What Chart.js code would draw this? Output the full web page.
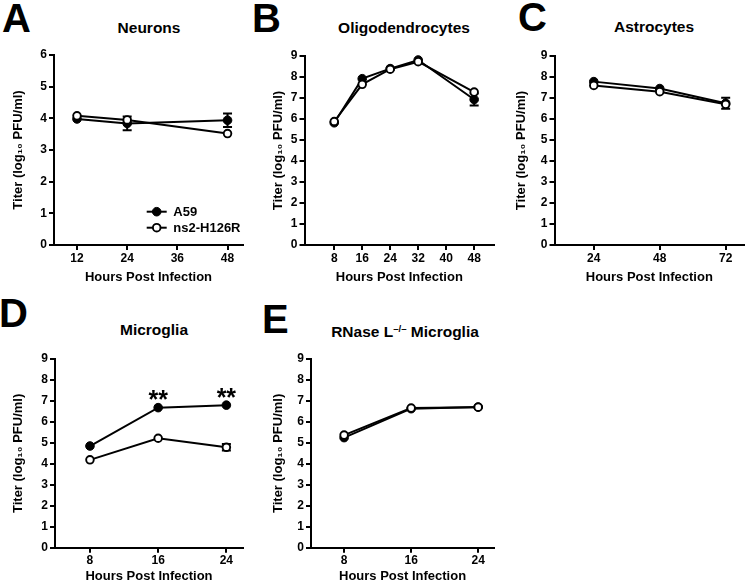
<!DOCTYPE html>
<html><head><meta charset="utf-8">
<script src="https://cdn.jsdelivr.net/npm/chart.js@4.4.1/dist/chart.umd.min.js"></script>
<style>
html,body{margin:0;padding:0;background:#fff;}
body{width:750px;height:587px;position:relative;overflow:hidden;font-family:'Liberation Sans',Arial,sans-serif;color:#000;}
canvas{position:absolute;}
.lbl{position:absolute;font-weight:bold;font-size:40px;line-height:40px;white-space:nowrap;}
.ttl{position:absolute;font-weight:bold;font-size:15.5px;line-height:15.5px;text-align:center;width:200px;white-space:nowrap;}
.ttl sup{font-size:0.62em;line-height:0;vertical-align:0.55em;}
</style></head><body>
<div class="lbl" style="left:2px;top:-2px;">A</div>
<div class="lbl" style="left:252px;top:-2px;">B</div>
<div class="lbl" style="left:518px;top:-3px;">C</div>
<div class="lbl" style="left:-1px;top:293px;">D</div>
<div class="lbl" style="left:262px;top:299px;">E</div>
<div class="ttl" style="left:49px;top:20px;">Neurons</div>
<div class="ttl" style="left:304px;top:20px;">Oligodendrocytes</div>
<div class="ttl" style="left:554px;top:19px;">Astrocytes</div>
<div class="ttl" style="left:54px;top:322px;">Microglia</div>
<div class="ttl" style="left:305px;top:323.5px;">RNase L<sup>&#8211;/&#8211;</sup> Microglia</div>
<script>
// ---- data ----
const seriesNames = ['A59', 'ns2-H126R'];
const xTitle = 'Hours Post Infection';
const yTitle = 'Titer (log\u2081\u2080 PFU/ml)';

// A: Neurons
const hoursA = [12, 24, 48];
const xTicksA = [12, 24, 36, 48];
const a59A = [3.98, 3.84, 3.94];
const a59ErrA = [0, 0.22, 0.21];
const ns2A = [4.08, 3.95, 3.52];
const ns2ErrA = [0, 0, 0];

// B: Oligodendrocytes
const hoursB = [8, 16, 24, 32, 48];
const xTicksB = [8, 16, 24, 32, 40, 48];
const a59B = [5.82, 7.92, 8.40, 8.81, 6.93];
const a59ErrB = [0, 0, 0, 0, 0.29];
const ns2B = [5.88, 7.65, 8.37, 8.73, 7.28];
const ns2ErrB = [0, 0, 0, 0, 0];

// C: Astrocytes
const hoursC = [24, 48, 72];
const xTicksC = [24, 48, 72];
const a59C = [7.78, 7.45, 6.75];
const a59ErrC = [0, 0, 0.26];
const ns2C = [7.60, 7.30, 6.70];
const ns2ErrC = [0, 0, 0];

// D: Microglia
const hoursD = [8, 16, 24];
const xTicksD = [8, 16, 24];
const a59D = [4.85, 6.68, 6.80];
const a59ErrD = [0, 0, 0];
const ns2D = [4.19, 5.22, 4.79];
const ns2ErrD = [0, 0, 0.15];
const sigHoursD = [16, 24];
const sigLabel = '**';

// E: RNase L-/- Microglia
const hoursE = [8, 16, 24];
const xTicksE = [8, 16, 24];
const a59E = [5.25, 6.63, 6.71];
const a59ErrE = [0, 0, 0];
const ns2E = [5.37, 6.66, 6.70];
const ns2ErrE = [0, 0, 0];

// ---- rendering ----
const FONT = "'Liberation Sans', Arial, sans-serif";
Chart.defaults.font.family = FONT;
Chart.defaults.color = '#000';

const errorBars = {
  id: 'errorBars',
  beforeDatasetsDraw(chart) {
    const ctx = chart.ctx, ys = chart.scales.y;
    chart.data.datasets.forEach((ds, di) => {
      const meta = chart.getDatasetMeta(di);
      meta.data.forEach((pt, i) => {
        const e = ds.err ? ds.err[i] : 0;
        if (!e) return;
        const v = ds.data[i].y;
        const yHi = ys.getPixelForValue(v + e), yLo = ys.getPixelForValue(v - e);
        ctx.save();
        ctx.strokeStyle = '#000'; ctx.lineWidth = 2;
        ctx.beginPath();
        ctx.moveTo(pt.x, yHi); ctx.lineTo(pt.x, yLo);
        ctx.moveTo(pt.x - 4.5, yHi); ctx.lineTo(pt.x + 4.5, yHi);
        ctx.moveTo(pt.x - 4.5, yLo); ctx.lineTo(pt.x + 4.5, yLo);
        ctx.stroke();
        ctx.restore();
      });
    });
  }
};

const sigStars = {
  id: 'sigStars',
  afterDatasetsDraw(chart, args, opts) {
    if (!opts || !opts.hours) return;
    const ctx = chart.ctx;
    const ds = chart.data.datasets[0];
    const meta = chart.getDatasetMeta(0);
    ctx.save();
    ctx.font = 'bold 25px ' + FONT;
    ctx.fillStyle = '#000';
    ctx.textAlign = 'center';
    ctx.textBaseline = 'alphabetic';
    opts.hours.forEach(h => {
      const i = ds.data.findIndex(d => d.x === h);
      if (i < 0) return;
      const pt = meta.data[i];
      ctx.fillText(opts.label, pt.x, pt.y + 0.5);
    });
    ctx.restore();
  }
};

const insideLegend = {
  id: 'insideLegend',
  afterDatasetsDraw(chart, args, opts) {
    if (!opts || !opts.show) return;
    const ctx = chart.ctx, ca = chart.chartArea;
    chart.data.datasets.forEach((ds, i) => {
      const y = ca.bottom - opts.rowOffsets[i];
      const x0 = ca.right - opts.lineStart, x1 = ca.right - opts.lineEnd;
      ctx.save();
      ctx.strokeStyle = '#000'; ctx.lineWidth = ds.borderWidth;
      ctx.beginPath(); ctx.moveTo(x0, y); ctx.lineTo(x1, y); ctx.stroke();
      ctx.beginPath();
      ctx.arc((x0 + x1) / 2, y, ds.pointRadius, 0, Math.PI * 2);
      ctx.fillStyle = ds.pointBackgroundColor; ctx.fill();
      ctx.lineWidth = ds.pointBorderWidth; ctx.strokeStyle = '#000'; ctx.stroke();
      ctx.font = 'bold 13px ' + FONT;
      ctx.fillStyle = '#000'; ctx.textAlign = 'left'; ctx.textBaseline = 'middle';
      ctx.fillText(ds.label, ca.right - opts.textStart, y + 0.5);
      ctx.restore();
    });
  }
};

function series(hours, vals) { return hours.map((h, i) => ({ x: h, y: vals[i] })); }

const panels = [
  { hours: hoursA, a59: a59A, a59Err: a59ErrA, ns2: ns2A, ns2Err: ns2ErrA, xTicks: xTicksA,
    xMin: 6.5, xMax: 51.7, yMax: 6, legend: true, stars: null,
    box: { left: 0, top: 40, w: 250, h: 250 }, pad: { left: 0, top: 15, right: 7, bottom: 5 },
    yW: 54, yTitlePad: 10.5, xH: 40 },
  { hours: hoursB, a59: a59B, a59Err: a59ErrB, ns2: ns2B, ns2Err: ns2ErrB, xTicks: xTicksB,
    xMin: -0.5, xMax: 53.7, yMax: 9, legend: false, stars: null,
    box: { left: 250, top: 40, w: 250, h: 250 }, pad: { left: 0, top: 16, right: 2, bottom: 5 },
    yW: 54.5, yTitlePad: 21, xH: 40 },
  { hours: hoursC, a59: a59C, a59Err: a59ErrC, ns2: ns2C, ns2Err: ns2ErrC, xTicks: xTicksC,
    xMin: 9.7, xMax: 78.7, yMax: 9, legend: false, stars: null,
    box: { left: 500, top: 40, w: 250, h: 250 }, pad: { left: 0, top: 16, right: 1, bottom: 5 },
    yW: 54.5, yTitlePad: 14, xH: 40 },
  { hours: hoursD, a59: a59D, a59Err: a59ErrD, ns2: ns2D, ns2Err: ns2ErrD, xTicks: xTicksD,
    xMin: 3.9, xMax: 25.95, yMax: 9, legend: false, stars: { hours: sigHoursD, label: sigLabel },
    box: { left: 0, top: 337, w: 250, h: 250 }, pad: { left: 0, top: 22, right: 7, bottom: 2.5 },
    yW: 55, yTitlePad: 10.5, xH: 36.8 },
  { hours: hoursE, a59: a59E, a59Err: a59ErrE, ns2: ns2E, ns2Err: ns2ErrE, xTicks: xTicksE,
    xMin: 4.05, xMax: 25.9, yMax: 9, legend: false, stars: null,
    box: { left: 250, top: 337, w: 250, h: 250 }, pad: { left: 0, top: 22, right: 0, bottom: 2.5 },
    yW: 61, yTitlePad: 20.5, xH: 36.8 }
];

function makeChart(p) {
  const cv = document.createElement('canvas');
  cv.width = p.box.w; cv.height = p.box.h;
  cv.style.left = p.box.left + 'px'; cv.style.top = p.box.top + 'px';
  cv.style.width = p.box.w + 'px'; cv.style.height = p.box.h + 'px';
  document.body.appendChild(cv);
  const axisGrid = { display: true, drawOnChartArea: false, drawTicks: true, tickLength: 5, color: '#000', lineWidth: 2 };
  const axisBorder = { display: true, color: '#000', width: 2 };
  return new Chart(cv.getContext('2d'), {
    type: 'line',
    data: {
      datasets: [
        { label: seriesNames[0], data: series(p.hours, p.a59), err: p.a59Err,
          borderColor: '#000', borderWidth: 2, tension: 0, fill: false,
          pointRadius: 4.3, pointBorderWidth: 1, pointBackgroundColor: '#000', pointBorderColor: '#000',
          order: 2, clip: false },
        { label: seriesNames[1], data: series(p.hours, p.ns2), err: p.ns2Err,
          borderColor: '#000', borderWidth: 2, tension: 0, fill: false,
          pointRadius: 3.8, pointBorderWidth: 1.9, pointBackgroundColor: '#fff', pointBorderColor: '#000',
          order: 1, clip: false }
      ]
    },
    options: {
      responsive: false, animation: false, devicePixelRatio: 1,
      layout: { padding: p.pad },
      plugins: {
        legend: { display: false }, tooltip: { enabled: false }, title: { display: false },
        insideLegend: { show: p.legend, rowOffsets: [33.3, 17.3], lineStart: 96.3, lineEnd: 76.3, textStart: 69.7 },
        sigStars: p.stars || {}
      },
      scales: {
        x: {
          type: 'linear', min: p.xMin, max: p.xMax,
          afterBuildTicks: s => { s.ticks = p.xTicks.map(v => ({ value: v })); },
          afterFit: s => { s.height = p.xH; },
          grid: axisGrid, border: axisBorder,
          ticks: { font: { size: 12, weight: 'bold' }, color: '#000', padding: 1, maxRotation: 0, autoSkip: false },
          title: { display: true, text: xTitle, font: { size: 13, weight: 'bold' }, color: '#000', padding: { top: 0, bottom: 0 } }
        },
        y: {
          type: 'linear', min: 0, max: p.yMax,
          afterFit: s => { s.width = p.yW; },
          grid: axisGrid, border: axisBorder,
          ticks: { stepSize: 1, font: { size: 12, weight: 'bold' }, color: '#000', padding: 2 },
          title: { display: true, text: yTitle, font: { size: 13, weight: 'bold' }, color: '#000', padding: { top: p.yTitlePad, bottom: 0 } }
        }
      }
    },
    plugins: [errorBars, sigStars, insideLegend]
  });
}

panels.forEach(makeChart);
</script>
</body></html>
